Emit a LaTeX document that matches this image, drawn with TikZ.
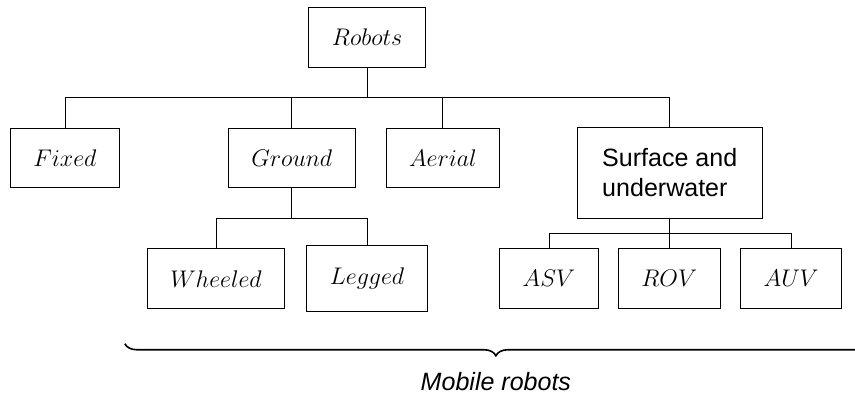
\documentclass[12pt,tikz,border=0pt]{standalone}
\usepackage{fontspec}
\setsansfont{Liberation Sans}
\usepackage{tikz}
\usetikzlibrary{positioning, decorations.pathreplacing}
\tikzset{class/.style={ % Sets the properties for each box
draw, thin,
inner xsep=11.5pt,
minimum height=1.05cm},
wire/.style={ % Connectors of the tree
draw, thin},
span/.style={ % Brace under the mobile robots
decorate, decoration={brace, mirror, amplitude=6pt},
line width=0.8pt}}

\begin{document}
\begin{tikzpicture}
    \useasboundingbox (0,0) rectangle (15,-7);

    \node[class] (robots) at (6.44,-0.65) {$Robots$};

    \node[class] (fixed) at (1.14,-2.77) {$Fixed$};
    \node[class] (ground) at (5.12,-2.77) {$Ground$};
    \node[class] (aerial) at (7.77,-2.77) {$Aerial$};
    \node[class, minimum width=3.25cm, minimum height=1.61cm, align=left,
          font=\sffamily\fontsize{12.5}{15}\selectfont] (surface) at (11.75,-3.035)
          {Surface and\\underwater};

    \node[class] (wheeled) at (3.79,-4.89) {$Wheeled$};
    \node[class, minimum height=1.16cm] (legged) at (6.44,-4.89) {$Legged$};

    \node[class] (asv) at (9.63,-4.89) {$ASV$};
    \node[class] (rov) at (11.74,-4.89) {$ROV$};
    \node[class] (auv) at (13.88,-4.89) {$AUV$};

    \foreach \c in {fixed,ground,aerial,surface}
        \draw[wire] (robots.south) -- ++(0,-0.53) -| (\c.north);
    \foreach \c in {wheeled,legged}
        \draw[wire] (ground.south) -- ++(0,-0.53) -| (\c.north);
    \foreach \c in {asv,rov,auv}
        \draw[wire] (surface.south) -- ++(0,-0.25) -| (\c.north);

    \coordinate (bl) at (2.19,-6.03);
    \coordinate (br) at (15.21,-6.03);
    \draw[span] (bl) -- (br) node[midway, below=10pt, font=\sffamily\itshape\fontsize{12.5}{15}\selectfont] (mobile) {Mobile robots};

\end{tikzpicture}
\end{document}
